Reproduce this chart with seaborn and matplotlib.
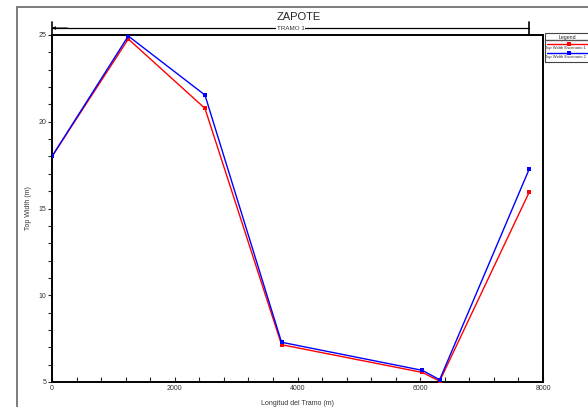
import numpy as np
import pandas as pd
import matplotlib
matplotlib.use("Agg")
import matplotlib.pyplot as plt
import seaborn as sns
from matplotlib.lines import Line2D
from matplotlib.patches import Rectangle
from matplotlib.ticker import MultipleLocator
from matplotlib.transforms import blended_transform_factory

# Data
stations = [0, 1243, 2492, 3740, 6036, 6316, 7774]
width_esc1 = [18.0, 24.77, 20.77, 7.15, 5.55, 5.05, 15.93]
width_esc2 = [18.0, 24.94, 21.54, 7.29, 5.67, 5.13, 17.26]
series_names = ["Top Width Escenario 1", "Top Width Escenario 2"]
series_colors = ["#ff0000", "#0000ff"]
reach_label = "TRAMO 1"
title = "ZAPOTE"

df = pd.concat([
    pd.DataFrame({"station": stations, "width": width_esc1, "serie": series_names[0]}),
    pd.DataFrame({"station": stations, "width": width_esc2, "serie": series_names[1]}),
])

sns.set_style("white")
plt.rcParams["font.family"] = ["Liberation Sans", "DejaVu Sans"]

W, H = 588, 407
fig = plt.figure(figsize=(W / 100, H / 100), dpi=100)
ax = fig.add_axes([52 / W, (H - 382) / H, (543 - 52) / W, (382 - 35) / H])

sns.lineplot(data=df, x="station", y="width", hue="serie",
             palette=dict(zip(series_names, series_colors)),
             marker="s", markersize=3.5, markeredgewidth=0, linewidth=1.0,
             legend=False, ax=ax, zorder=3)

ax.set_xlim(0, 8000)
ax.set_ylim(5, 25)
ax.xaxis.set_major_locator(MultipleLocator(2000))
ax.xaxis.set_minor_locator(MultipleLocator(400))
ax.yaxis.set_major_locator(MultipleLocator(5))
ax.yaxis.set_minor_locator(MultipleLocator(1))
ax.tick_params(axis="x", which="both", direction="in", length=3.5, width=0.8,
               labelsize=5, labelcolor="#333333", pad=2, bottom=True)
ax.tick_params(axis="y", which="both", direction="out", length=3, width=0.8,
               labelsize=5, labelcolor="#333333", pad=1, left=True)
for s in ax.spines.values():
    s.set_color("black")
    s.set_linewidth(1.4)

ax.set_xlabel("Longitud del Tramo (m)", fontsize=5, color="#333333", labelpad=6)
ax.set_ylabel("Top Width (m)", fontsize=5, color="#333333")
ax.yaxis.set_label_coords(-20 / 491, 0.5)

# reach bracket above the plot
tr = blended_transform_factory(ax.transData, ax.transAxes)
end = stations[-1]
ax.plot([0, end], [1.02, 1.02], color="black", lw=0.9, transform=tr, clip_on=False)
ax.plot([end, end], [1.0, 1.037], color="black", lw=1.2, transform=tr, clip_on=False)
ax.plot([0, 0], [1.0, 1.037], color="black", lw=1.2, transform=tr, clip_on=False)
ax.annotate("", xy=(0, 1.02), xytext=(250, 1.02), xycoords=tr, textcoords=tr,
            arrowprops=dict(arrowstyle="-|>", color="black", lw=0.8,
                            mutation_scale=4, shrinkA=0, shrinkB=0),
            annotation_clip=False)
ax.text(end / 2, 1.02, reach_label, transform=tr, fontsize=4.5, color="#333333",
        ha="center", va="center",
        bbox=dict(facecolor="white", edgecolor="none", pad=0.5))

fig.text(299 / W, 1 - 17 / H, title, fontsize=8, ha="center", va="center")

# outer frame
fig.patches.append(Rectangle((17 / W, -0.05), 1.2, 1 - 7 / H + 0.05,
                             transform=fig.transFigure, fill=False,
                             edgecolor="#666666", lw=1.2))

# legend box drawn by hand, running to the right edge like the reference
fig.patches.append(Rectangle((545 / W, 1 - 62 / H), 0.2, 29 / H,
                             transform=fig.transFigure, fill=False,
                             edgecolor="#444444", lw=0.8))
fig.add_artist(Line2D([545 / W, 1], [1 - 40 / H, 1 - 40 / H],
                      transform=fig.transFigure, color="#555555", lw=1.0))
fig.text(567 / W, 1 - 37 / H, "Legend", fontsize=3.8, ha="center", va="center")
for i, (name, col) in enumerate(zip(series_names, series_colors)):
    yl = 1 - (44 + 9 * i) / H
    fig.add_artist(Line2D([547 / W, 1], [yl, yl], transform=fig.transFigure,
                          color=col, lw=1.0))
    fig.add_artist(Line2D([569 / W], [yl], transform=fig.transFigure, color=col,
                          marker="s", markersize=2.5, markeredgewidth=0))
    fig.text(545 / W, yl - 4 / H, name, fontsize=3.0, ha="left", va="center",
             color="#333333")

fig.savefig("out.png", dpi=100)
